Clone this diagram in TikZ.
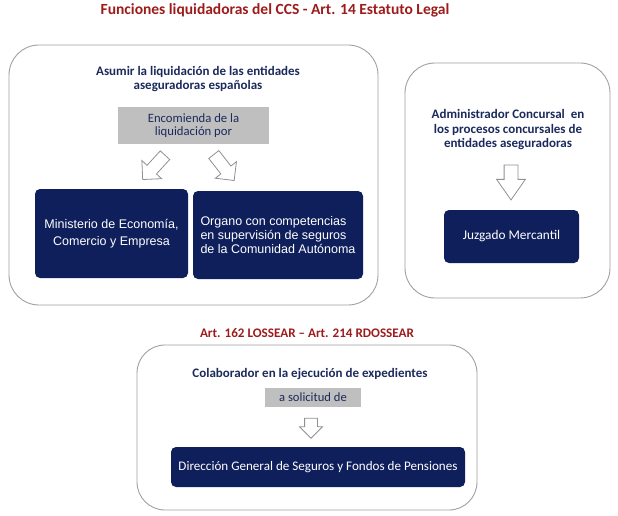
\documentclass[tikz,border=0pt]{standalone}
\usepackage{fontspec}
\setmainfont{Carlito}
\newfontfamily\arialfont{Liberation Sans}
\usetikzlibrary{shapes.arrows}
\definecolor{navy}{HTML}{0F1F5C}
\definecolor{hdr}{HTML}{1B2A5C}
\definecolor{dred}{HTML}{9E1B1B}
\definecolor{boxgray}{HTML}{BFBFBF}
\definecolor{edgegray}{HTML}{A0A0A0}
\definecolor{arrowgray}{HTML}{909090}
\begin{document}
\begin{tikzpicture}[x=1pt,y=-1pt,
  panel/.style={draw=edgegray, line width=0.9pt, rounded corners=30pt, inner sep=0pt},
  bluebox/.style={fill=navy, rounded corners=5pt, text=white, inner sep=0pt},
  graybox/.style={fill=boxgray, text=hdr, align=center, inner sep=0pt},
  heading/.style={text=hdr, font=\bfseries\fontsize{13}{14.5}\selectfont, align=center, inner sep=0pt},
  redtitle/.style={text=dred, inner sep=0pt},
  blockarrow/.style={single arrow, draw=arrowgray, fill=white, line width=0.8pt, inner xsep=0pt}
]
\useasboundingbox (0,0) rectangle (618,516);

% title
\node[redtitle, font=\bfseries\fontsize{15.5}{17}\selectfont, anchor=base] (title) at (275,15) {Funciones liquidadoras del CCS - Art. 14 Estatuto Legal};

% left panel
\node[panel, minimum width=369pt, minimum height=260pt] (p1) at (193.5,175) {};
\node[heading, font=\bfseries\fontsize{13}{14}\selectfont] (h1) at (198,79) {Asumir la liquidación de las entidades\\aseguradoras españolas};
\node[graybox, minimum width=151pt, minimum height=37pt, font=\fontsize{12.7}{13}\selectfont] (g1) at (193.5,125.5) {Encomienda de la\\liquidación por};
\node[blockarrow, minimum height=33pt, inner ysep=6pt, single arrow head extend=7pt, rotate=227.5] (a1) at (156,165) {};
\node[blockarrow, minimum height=33pt, inner ysep=6pt, single arrow head extend=7pt, rotate=-52] (a2) at (222,165) {};
\node[bluebox, minimum width=153pt, minimum height=89pt, align=center, font=\arialfont\fontsize{12.5}{16.5}\selectfont] (b1) at (111.5,233.5) {Ministerio de Economía,\\Comercio y Empresa};
\node[bluebox, minimum width=170pt, minimum height=88pt, align=left, font=\arialfont\fontsize{12.5}{14}\selectfont] (b2) at (278,235) {Organo con competencias\\en supervisión de seguros\\de la Comunidad Autónoma};

% right panel
\node[panel, minimum width=205pt, minimum height=235pt] (p2) at (507.5,180.5) {};
\node[heading] (h2) at (508,130) {Administrador Concursal\ \ en\\los procesos concursales de\\entidades aseguradoras};
\node[blockarrow, minimum height=35pt, inner ysep=6.5pt, single arrow head extend=7.5pt, single arrow tip angle=70, rotate=-90] (a3) at (511,177.5) {};
\node[bluebox, minimum width=135pt, minimum height=53pt, font=\fontsize{13.3}{15}\selectfont] (b3) at (511.5,236.5) {Juzgado Mercantil};

% bottom panel
\node[redtitle, font=\bfseries\fontsize{13.1}{15}\selectfont, anchor=base] (t2) at (307,337) {Art. 162 LOSSEAR – Art. 214 RDOSSEAR};
\node[panel, minimum width=340pt, minimum height=165pt, rounded corners=28pt] (p3) at (307,427.5) {};
\node[heading, anchor=base] (h3) at (310,377) {Colaborador en la ejecución de expedientes};
\node[graybox, minimum width=96pt, minimum height=19pt, font=\fontsize{12.6}{14}\selectfont] (g3) at (313,397.5) {a solicitud de};
\node[blockarrow, minimum height=20pt, inner ysep=6pt, single arrow head extend=5pt, rotate=-90] (a4) at (311,425) {};
\node[bluebox, minimum width=294pt, minimum height=40pt, font=\fontsize{13.1}{15}\selectfont] (b4) at (318,467) {Dirección General de Seguros y Fondos de Pensiones};
\end{tikzpicture}
\end{document}
